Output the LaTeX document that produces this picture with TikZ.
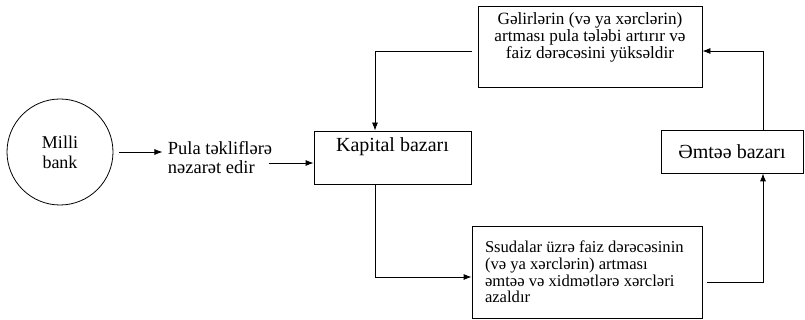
\documentclass[tikz,border=0pt]{standalone}
\usepackage{fontspec}
\setmainfont{Liberation Serif}
\usetikzlibrary{arrows.meta,calc,positioning}

\begin{document}
\begin{tikzpicture}[x=1pt, y=-1pt, >={Latex[length=8pt,width=6pt]}, line width=0.8pt,
  qutu/.style={draw, line width=0.8pt, inner sep=0pt, align=flush center},
  metn/.style={font=\fontsize{17.2}{16.7}\selectfont},
  boyuk/.style={font=\fontsize{20}{20}\selectfont}]
\useasboundingbox (0,0) rectangle (805,320);
\node[draw, circle, minimum size=106pt, inner sep=0pt, align=flush center,
  font=\fontsize{18}{20}\selectfont] (bank) at (60,152) {Milli\\bank};
\node[align=flush left, inner sep=0pt, font=\fontsize{18.5}{19}\selectfont] (ctrl) at (220,157.5)
  {Pula təkliflərə\\nəzarət edir};
\node[qutu, boyuk, minimum width=157pt, minimum height=53pt] (kap) at (392.5,157.5)
  {Kapital bazarı\\\strut};
\node[qutu, metn, minimum width=224pt, minimum height=81pt] (gel) at (590,46.5)
  {Gəlirlərin (və ya xərclərin)\\artması pula tələbi artırır və\\faiz dərəcəsini yüksəldir\\\strut};
\node[qutu, metn, font=\fontsize{16.6}{16.7}\selectfont, align=flush left, text width=204pt,
  inner xsep=13pt, minimum height=92pt] (ssu) at (587,272)
  {Ssudalar üzrə faiz dərəcəsinin\\(və ya xərclərin) artması\\əmtəə və xidmətlərə xərcləri\\azaldır};
\node[qutu, boyuk, minimum width=142pt, minimum height=43pt] (emt) at (732,151.5)
  {Əmtəə bazarı};
% pul siyasetinin otürülme zənciri
\draw[->] ($(bank.east)+(6,0)$) -- ([xshift=-5pt]ctrl.west |- bank.east);
\draw[->] ($(kap.west)+(-45,5.5)$) -- ($(kap.west)+(0,5.5)$);
\draw[->] ($(kap.south)+(-17.5,0)$) |- ($(ssu.west)+(0,5)$);
\draw[->] ($(ssu.east)+(5,10)$) -| ($(emt.south)+(31,0)$);
\draw[->] ($(emt.north)+(31,0)$) |- ($(gel.east)+(0,4.5)$);
\draw[->] ($(gel.west)+(-6,4.5)$) -| ($(kap.north)+(-17.5,0)$);
\end{tikzpicture}
\end{document}
